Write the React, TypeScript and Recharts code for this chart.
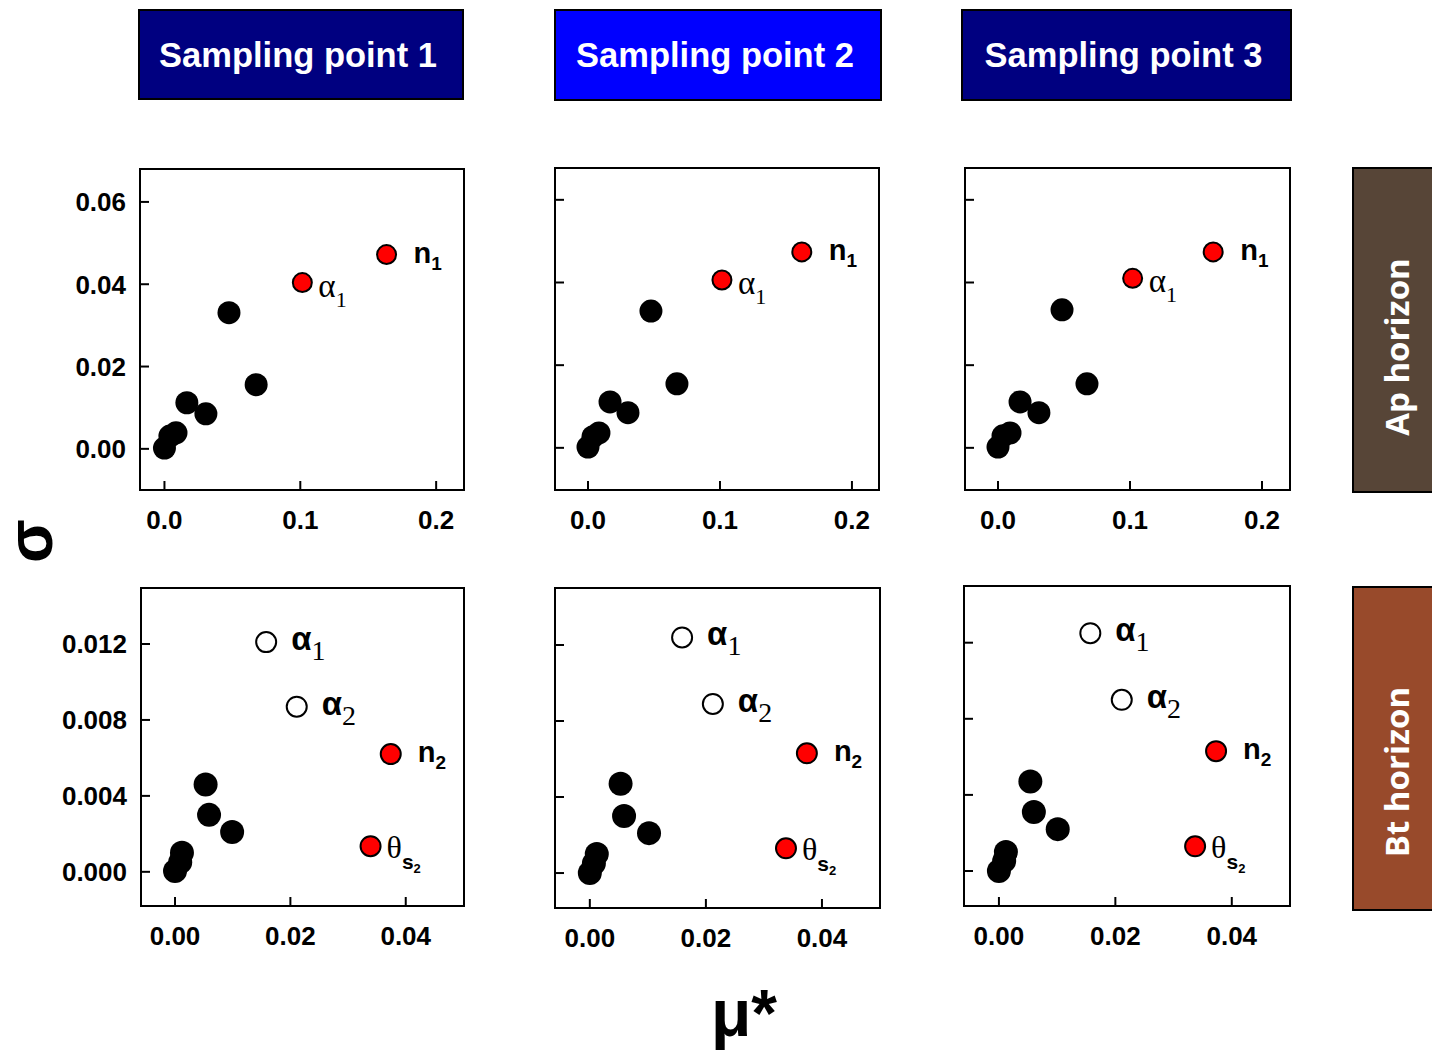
import React from 'react';
import { ScatterChart, Scatter, XAxis, YAxis, ReferenceArea } from 'recharts';

const SANS = "Arial, 'Liberation Sans', sans-serif";
const SERIF = "'Times New Roman', 'Liberation Serif', serif";
const SIDE = "'Open Sans', sans-serif";

// column / row headers
const samplingPoints = ['Sampling point 1', 'Sampling point 2', 'Sampling point 3'];
const horizons = ['Ap horizon', 'Bt horizon'];

// axis ticks
const apTicksX = [0, 0.1, 0.2];
const apTicksY = [0, 0.02, 0.04, 0.06];
const btTicksX = [0, 0.02, 0.04];
const btTicksY = [0, 0.004, 0.008, 0.012];

type Pt = { x: number; y: number; name?: string };

// Ap horizon: mu* (x) vs sigma (y)
const sp1ApOther: Pt[] = [
  { x: 0.0, y: 0.0002 }, { x: 0.004, y: 0.0031 }, { x: 0.0085, y: 0.0039 },
  { x: 0.0165, y: 0.0112 }, { x: 0.0305, y: 0.0085 }, { x: 0.0475, y: 0.0331 },
  { x: 0.0675, y: 0.0156 },
];
const sp1ApKey: Pt[] = [{ x: 0.1015, y: 0.0404, name: 'α1' }, { x: 0.1635, y: 0.0472, name: 'n1' }];

const sp2ApOther: Pt[] = [
  { x: 0.0, y: 0.0002 }, { x: 0.0038, y: 0.0027 }, { x: 0.0083, y: 0.0036 },
  { x: 0.0167, y: 0.0111 }, { x: 0.0303, y: 0.0085 }, { x: 0.0477, y: 0.0331 },
  { x: 0.0674, y: 0.0155 },
];
const sp2ApKey: Pt[] = [{ x: 0.1015, y: 0.0406, name: 'α1' }, { x: 0.162, y: 0.0474, name: 'n1' }];

const sp3ApOther: Pt[] = [
  { x: 0.0, y: 0.0002 }, { x: 0.0038, y: 0.0029 }, { x: 0.0091, y: 0.0036 },
  { x: 0.0167, y: 0.0111 }, { x: 0.031, y: 0.0085 }, { x: 0.0485, y: 0.0334 },
  { x: 0.0674, y: 0.0155 },
];
const sp3ApKey: Pt[] = [{ x: 0.102, y: 0.041, name: 'α1' }, { x: 0.163, y: 0.0474, name: 'n1' }];

// Bt horizon
const sp1BtOther: Pt[] = [
  { x: 0.0, y: 0.00004 }, { x: 0.0009, y: 0.0005 }, { x: 0.0012, y: 0.001 },
  { x: 0.0053, y: 0.0046 }, { x: 0.0059, y: 0.003 }, { x: 0.0099, y: 0.0021 },
];
const sp1BtOpen: Pt[] = [{ x: 0.0158, y: 0.0121, name: 'α1' }, { x: 0.0211, y: 0.0087, name: 'α2' }];
const sp1BtKey: Pt[] = [{ x: 0.0374, y: 0.0062, name: 'n2' }, { x: 0.0339, y: 0.00135, name: 'θs2' }];

const sp2BtOther: Pt[] = [
  { x: 0.0, y: 0.0 }, { x: 0.0007, y: 0.0005 }, { x: 0.0012, y: 0.001 },
  { x: 0.0053, y: 0.0047 }, { x: 0.0059, y: 0.003 }, { x: 0.0102, y: 0.0021 },
];
const sp2BtOpen: Pt[] = [{ x: 0.0159, y: 0.0124, name: 'α1' }, { x: 0.0212, y: 0.0089, name: 'α2' }];
const sp2BtKey: Pt[] = [{ x: 0.0374, y: 0.0063, name: 'n2' }, { x: 0.0338, y: 0.0013, name: 'θs2' }];

const sp3BtOther: Pt[] = [
  { x: 0.0, y: 0.0 }, { x: 0.0009, y: 0.00053 }, { x: 0.0012, y: 0.001 },
  { x: 0.0054, y: 0.0047 }, { x: 0.006, y: 0.0031 }, { x: 0.0101, y: 0.0022 },
];
const sp3BtOpen: Pt[] = [{ x: 0.0157, y: 0.0125, name: 'α1' }, { x: 0.0211, y: 0.009, name: 'α2' }];
const sp3BtKey: Pt[] = [{ x: 0.0373, y: 0.0063, name: 'n2' }, { x: 0.0337, y: 0.0013, name: 'θs2' }];

const YAXIS_W = 90;
const XAXIS_H = 50;

function KeyLabel({ name, cx, cy, row }: { name?: string; cx: number; cy: number; row: number }) {
  if (name === 'n1' || name === 'n2') {
    return (
      <text x={cx + 27} y={cy + 8} fontFamily={SANS} fontWeight="bold" fontSize={29} fill="#000">
        n<tspan fontSize={19} dy={7}>{name[1]}</tspan>
      </text>
    );
  }
  if (name === 'α1' || name === 'α2') {
    if (row === 0) {
      return (
        <text x={cx + 16} y={cy + 14} fontFamily={SERIF} fontSize={33} fill="#000">
          α<tspan fontSize={22} dy={10}>{name[1]}</tspan>
        </text>
      );
    }
    return (
      <text x={cx + 25} y={cy + 8} fontFamily={SANS} fontWeight="bold" fontSize={33} fill="#000">
        α<tspan fontFamily={SERIF} fontWeight="normal" fontSize={28} dy={10}>{name[1]}</tspan>
      </text>
    );
  }
  if (name === 'θs2') {
    return (
      <text x={cx + 16} y={cy + 12} fontFamily={SERIF} fontSize={32} fill="#000">
        θ<tspan fontFamily={SANS} fontWeight="bold" fontSize={21} dy={11}>s</tspan>
        <tspan fontFamily={SANS} fontWeight="bold" fontSize={13} dy={4}>2</tspan>
      </text>
    );
  }
  return null;
}

const YTick = (props: any) => {
  const { x, y, payload, fmt, show } = props;
  const ax = x + 14;
  return (
    <g>
      <line x1={ax} x2={ax + 9} y1={y} y2={y} stroke="#000" strokeWidth={2} />
      {show && (
        <text x={x} y={y} dy="0.36em" textAnchor="end" fontFamily={SANS} fontWeight="bold" fontSize={26} fill="#000">
          {fmt(payload.value)}
        </text>
      )}
    </g>
  );
};

const XTick = (props: any) => {
  const { x, y, payload, fmt } = props;
  const ay = y - 21;
  return (
    <g>
      <line x1={x} x2={x} y1={ay} y2={ay - 9} stroke="#000" strokeWidth={2} />
      <text x={x} y={y} dy="0.71em" textAnchor="middle" fontFamily={SANS} fontWeight="bold" fontSize={26} fill="#000">
        {fmt(payload.value)}
      </text>
    </g>
  );
};

interface PanelProps {
  rect: [number, number, number, number];
  xDomain: [number, number];
  yDomain: [number, number];
  xTicks: number[];
  yTicks: number[];
  xDigits: number;
  yDigits: number;
  showY: boolean;
  row: number;
  other: Pt[];
  key1: Pt[];
  open?: Pt[];
  r: number;
}

function Panel({ rect, xDomain, yDomain, xTicks, yTicks, xDigits, yDigits, showY, row, other, key1, open, r }: PanelProps) {
  const [l, t, rr, b] = rect;
  const w = rr - l + YAXIS_W + 10;
  const h = b - t + 10 + XAXIS_H;
  return (
    <div style={{ position: 'absolute', left: l - YAXIS_W, top: t - 10 }}>
      <ScatterChart width={w} height={h} margin={{ top: 10, right: 10, bottom: 0, left: 0 }} style={{ overflow: 'visible' }}>
        <XAxis
          type="number"
          dataKey="x"
          domain={xDomain}
          ticks={xTicks}
          interval={0}
          allowDataOverflow
          height={XAXIS_H}
          axisLine={false}
          tickLine={false}
          tickSize={0}
          tickMargin={21}
          tick={(p: any) => <XTick {...p} fmt={(v: number) => v.toFixed(xDigits)} />}
        />
        <YAxis
          type="number"
          dataKey="y"
          domain={yDomain}
          ticks={yTicks}
          interval={0}
          allowDataOverflow
          width={YAXIS_W}
          axisLine={false}
          tickLine={false}
          tickSize={0}
          tickMargin={14}
          tick={(p: any) => <YTick {...p} show={showY} fmt={(v: number) => v.toFixed(yDigits)} />}
        />
        <ReferenceArea
          x1={xDomain[0]}
          x2={xDomain[1]}
          y1={yDomain[0]}
          y2={yDomain[1]}
          fill="none"
          fillOpacity={0}
          stroke="#000"
          strokeWidth={2}
          ifOverflow="visible"
        />
        <Scatter
          data={other}
          isAnimationActive={false}
          shape={(p: any) => <circle cx={p.cx} cy={p.cy} r={r} fill="#000" />}
        />
        {open && (
          <Scatter
            data={open}
            isAnimationActive={false}
            shape={(p: any) => (
              <g>
                <circle cx={p.cx} cy={p.cy} r={r - 2} fill="#fff" stroke="#000" strokeWidth={2} />
                <KeyLabel name={p.payload.name} cx={p.cx} cy={p.cy} row={row} />
              </g>
            )}
          />
        )}
        <Scatter
          data={key1}
          isAnimationActive={false}
          shape={(p: any) => (
            <g>
              <circle cx={p.cx} cy={p.cy} r={r - 2} fill="#ff0000" stroke="#000" strokeWidth={2} />
              <KeyLabel name={p.payload.name} cx={p.cx} cy={p.cy} row={row} />
            </g>
          )}
        />
      </ScatterChart>
    </div>
  );
}

const headerBoxes: [number, number, number, number, string][] = [
  [139, 10, 463, 99, '#000080'],
  [555, 10, 881, 100, '#0000ff'],
  [962, 10, 1291, 100, '#000080'],
];
// top, bottom, fill, text centre
const sideBoxes: [number, number, string, number][] = [
  [168, 492, '#574537', 347],
  [587, 910, '#984a2b', 772],
];

export default function App() {
  return (
    <div style={{ position: 'absolute', left: 0, top: 0, width: 1432, height: 1051, background: '#fff', overflow: 'hidden' }}>
      <svg width={1432} height={1051} style={{ position: 'absolute', left: 0, top: 0 }}>
        {headerBoxes.map(([x1, y1, x2, y2, c], i) => (
          <g key={i}>
            <rect x={x1} y={y1} width={x2 - x1} height={y2 - y1} fill={c} stroke="#000" strokeWidth={2} />
            <text x={(x1 + x2) / 2 - 3} y={(y1 + y2) / 2 + 12} textAnchor="middle" fontFamily={SANS} fontWeight="bold" fontSize={34.5} fill="#fff">
              {samplingPoints[i]}
            </text>
          </g>
        ))}
        {sideBoxes.map(([y1, y2, c, ty], i) => (
          <g key={i}>
            <rect x={1353} y={y1} width={100} height={y2 - y1} fill={c} stroke="#000" strokeWidth={2} />
            <text
              transform={`translate(1409, ${ty}) rotate(-90)`}
              textAnchor="middle"
              fontFamily={SIDE}
              fontWeight={700}
              fontSize={33}
              fill="#fff"
            >
              {horizons[i]}
            </text>
          </g>
        ))}
        <text transform="translate(35, 541) rotate(-90)" dy="0.26em" textAnchor="middle" fontFamily={SANS} fontWeight="bold" fontSize={64} fill="#000">
          σ
        </text>
        <text x={744} y={1036} textAnchor="middle" fontFamily={SANS} fontWeight="bold" fontSize={66} fill="#000">
          μ*
        </text>
      </svg>

      <Panel rect={[140, 169, 464, 490]} xDomain={[-0.018, 0.2205]} yDomain={[-0.01, 0.068]} xTicks={apTicksX} yTicks={apTicksY} xDigits={1} yDigits={2} showY row={0} other={sp1ApOther} key1={sp1ApKey} r={11.5} />
      <Panel rect={[555, 168, 879, 490]} xDomain={[-0.025, 0.2205]} yDomain={[-0.0102, 0.0677]} xTicks={apTicksX} yTicks={apTicksY} xDigits={1} yDigits={2} showY={false} row={0} other={sp2ApOther} key1={sp2ApKey} r={11.5} />
      <Panel rect={[965, 168, 1290, 490]} xDomain={[-0.025, 0.2212]} yDomain={[-0.0102, 0.0677]} xTicks={apTicksX} yTicks={apTicksY} xDigits={1} yDigits={2} showY={false} row={0} other={sp3ApOther} key1={sp3ApKey} r={11.5} />

      <Panel rect={[141, 588, 464, 906]} xDomain={[-0.0059, 0.0501]} yDomain={[-0.0018, 0.01495]} xTicks={btTicksX} yTicks={btTicksY} xDigits={2} yDigits={3} showY row={1} other={sp1BtOther} open={sp1BtOpen} key1={sp1BtKey} r={12} />
      <Panel rect={[555, 588, 880, 908]} xDomain={[-0.006, 0.05]} yDomain={[-0.00184, 0.015]} xTicks={btTicksX} yTicks={btTicksY} xDigits={2} yDigits={3} showY={false} row={1} other={sp2BtOther} open={sp2BtOpen} key1={sp2BtKey} r={12} />
      <Panel rect={[964, 586, 1290, 906]} xDomain={[-0.006, 0.05]} yDomain={[-0.00184, 0.01498]} xTicks={btTicksX} yTicks={btTicksY} xDigits={2} yDigits={3} showY={false} row={1} other={sp3BtOther} open={sp3BtOpen} key1={sp3BtKey} r={12} />
    </div>
  );
}
